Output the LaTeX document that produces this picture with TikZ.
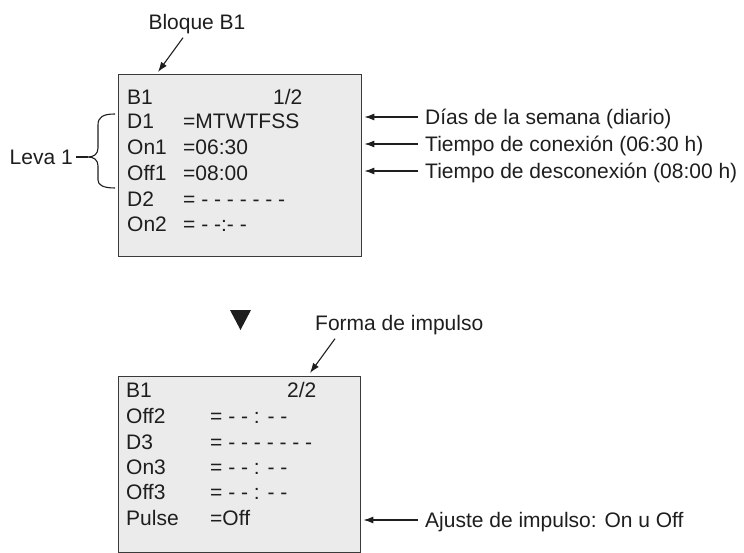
\documentclass[tikz,border=0pt]{standalone}
\usepackage{fontspec}
\setmainfont{Liberation Sans}
\usetikzlibrary{arrows.meta}
\definecolor{panelgray}{HTML}{EBEBEB}
\definecolor{panelline}{HTML}{3A3A3A}
\definecolor{ink}{HTML}{1E1E1E}
\tikzset{
  panel/.style={draw=panelline, fill=panelgray, line width=1.4pt, inner sep=0pt, anchor=north west},
  row/.style={anchor=west, inner sep=0pt, text=ink, text height=15pt, text depth=0pt},
  label/.style={row},
  pointer/.style={-{Latex[length=10pt,width=7pt]}, line width=1.1pt, draw=ink},
}
\begin{document}
\begin{tikzpicture}[x=1pt,y=1pt,font=\fontsize{21}{25}\selectfont]
\useasboundingbox (0,0) rectangle (744,-553);

% Panels
\node[panel, minimum width=243pt, minimum height=182pt] (page1) at (118,-74) {};
\node[panel, minimum width=242pt, minimum height=176pt] (page2) at (118,-376) {};

% Page 1/2
\node[row] (p1title) at (127,-97) {B1};
\node[row] (p1count) at (273,-97) {1/2};
\node[row] (d1key) at (127,-121) {D1};
\node[row] (d1val) at (183,-121) {=MTWTFSS};
\node[row] (on1key) at (127,-147) {On1};
\node[row] (on1val) at (183,-147) {=06:30};
\node[row] (off1key) at (127,-173) {Off1};
\node[row] (off1val) at (183,-173) {=08:00};
\node[row] (d2key) at (127,-199) {D2};
\node[row] (d2val) at (183,-199) {= - - - - - - -};
\node[row] (on2key) at (127,-224.5) {On2};
\node[row] (on2val) at (183,-224.5) {= - -:- -};

% Page 2/2
\node[row] (p2title) at (126,-390) {B1};
\node[row] (p2count) at (287,-390) {2/2};
\node[row] (off2key) at (126,-416) {Off2};
\node[row] (off2val) at (210,-416) {= - - : - -};
\node[row] (d3key) at (126,-442) {D3};
\node[row] (d3val) at (210,-442) {= - - - - - - -};
\node[row] (on3key) at (126,-467) {On3};
\node[row] (on3val) at (210,-467) {= - - : - -};
\node[row] (off3key) at (126,-492) {Off3};
\node[row] (off3val) at (210,-492) {= - - : - -};
\node[row] (pulsekey) at (126,-518) {Pulse};
\node[row] (pulseval) at (210,-518) {=Off};

% Callouts
\node[label, anchor=center] (block) at (197,-22) {Bloque B1};
\node[label] (days) at (425,-117) {Días de la semana (diario)};
\node[label] (ontime) at (425,-144) {Tiempo de conexión (06:30 h)};
\node[label] (offtime) at (425,-171) {Tiempo de desconexión (08:00 h)};
\node[label] (pulseform) at (315,-323) {Forma de impulso};
\node[label] (pulseset) at (425,-520) {Ajuste de impulso: On u Off};
\node[label, anchor=east] (cam) at (73,-157) {Leva 1};

\coordinate (blocktip) at (158,-72);
\coordinate (formtip) at (310,-373);
\coordinate (bracetip) at (88,-157);

\draw[pointer] ([xshift=-14pt,yshift=-8pt]block.south) -- (blocktip);
\draw[pointer] ([xshift=20pt,yshift=-8pt]pulseform.south west) -- (formtip);
\draw[pointer] ([xshift=-7pt]days.west) -- ([xshift=2pt]days.west -| page1.east);
\draw[pointer] ([xshift=-7pt]ontime.west) -- ([xshift=2pt]ontime.west -| page1.east);
\draw[pointer] ([xshift=-7pt]offtime.west) -- ([xshift=2pt]offtime.west -| page1.east);
\draw[pointer] ([xshift=-7pt]pulseset.west) -- ([xshift=2pt]pulseset.west -| page2.east);

% Brace for Leva 1
\draw[ink, line width=1.1pt] (115,-114) .. controls (103,-114) and (98,-117) .. (98,-125)
  -- (98,-148) .. controls (98,-154) and (94,-157) .. (bracetip)
  .. controls (94,-157) and (98,-160) .. (98,-166)
  -- (98,-180) .. controls (98,-185) and (103,-188) .. (115,-188);
\draw[ink, line width=1.1pt] ([xshift=3pt]cam.east) -- (bracetip);

% Page change marker
\fill[ink] (230,-310) -- (251,-310) -- (240.5,-330) -- cycle;
\end{tikzpicture}
\end{document}
